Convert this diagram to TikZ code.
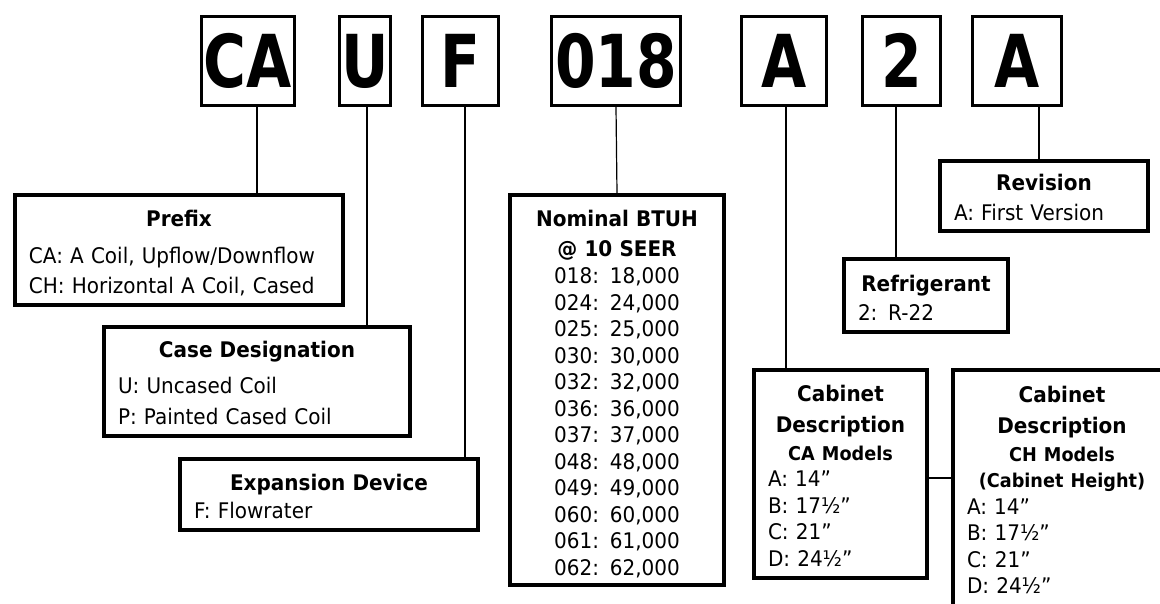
\documentclass[tikz,border=0pt]{standalone}
\usepackage{fontspec}
\setmainfont{DejaVu Sans}[FakeStretch=0.93]
\newfontfamily\codefont{DejaVu Sans}[FakeStretch=0.8]
\usepackage{tikz}
\usetikzlibrary{positioning}
\newcommand{\boxhead}[1]{\makebox[\linewidth][c]{\rule{0pt}{20pt}\bfseries #1}}

\begin{document}
\begin{tikzpicture}[x=1pt, y=-1pt,
  codebox/.style={draw, line width=3pt, inner sep=0pt, minimum height=89pt, text height=53pt, text depth=0pt, font=\codefont\bfseries\fontsize{73}{73}\selectfont},
  infobox/.style={draw, line width=4pt, inner xsep=14pt, inner ysep=0pt, align=left, font=\fontsize{21.5}{30}\selectfont},
  link/.style={line width=1.2pt}]

  \useasboundingbox (0,0) rectangle (1160,603);
  \clip (0,0) rectangle (1160,603);

  \node (lCA) [codebox, minimum width=93pt] at (248,61) {CA};
  \node (lU) [codebox, minimum width=51pt] at (365,61) {U};
  \node (lF) [codebox, minimum width=76pt] at (460.5,61) {F};
  \node (lBTU) [codebox, minimum width=129pt] at (616,61) {018};
  \node (lCab) [codebox, minimum width=85pt] at (784,61) {A};
  \node (lRef) [codebox, minimum width=78pt] at (901.5,61) {2};
  \node (lRev) [codebox, minimum width=89pt] at (1017,61) {A};

  \node (prefix) [infobox, text width=300pt, minimum width=328pt, minimum height=110pt] at (179,250)
    {\rule{0pt}{22pt}\boxhead{Prefix}\\[6.5pt] CA: A Coil, Upflow/Downflow\\ CH: Horizontal A Coil, Cased};
  \node (casedes) [infobox, text width=278pt, minimum width=306pt, minimum height=109pt,
    font=\fontsize{21.5}{31.5}\selectfont] at (257,381.5)
    {\boxhead{Case Designation}\\[4pt] U: Uncased Coil\\ P: Painted Cased Coil};
  \node (expdev) [infobox, text width=270pt, minimum width=298pt, minimum height=71pt,
    font=\fontsize{21.5}{28}\selectfont] at (329,494.5)
    {\boxhead{Expansion Device}\\ F: Flowrater};
  \node (btuh) [infobox, align=center, text width=186pt, minimum width=214pt, minimum height=390pt,
    font=\fontsize{21.5}{26.5}\selectfont] at (617,390)
    {\rule{0pt}{24pt}{\bfseries Nominal BTUH}\\[3.5pt] {\bfseries @ 10 SEER}\\[0.5pt]
     018: 18,000\\ 024: 24,000\\ 025: 25,000\\ 030: 30,000\\ 032: 32,000\\ 036: 36,000\\
     037: 37,000\\ 048: 48,000\\ 049: 49,000\\ 060: 60,000\\ 061: 61,000\\ 062: 62,000};
  \node (cabca) [infobox, text width=145pt, minimum width=173pt, minimum height=208pt,
    font=\fontsize{21.5}{26.5}\selectfont] at (840.5,474)
    {\boxhead{Cabinet}\\[4.5pt] \boxhead{Description}\\[1.5pt] \boxhead{\fontsize{19}{26.5}\selectfont CA Models}\\
     A: 14”\\ B: 17½”\\ C: 21”\\ D: 24½”};
  \node (cabch) [infobox, text width=190pt, minimum width=218pt, minimum height=236pt,
    font=\fontsize{21.5}{26.5}\selectfont] at (1062,488)
    {\boxhead{Cabinet}\\[4.5pt] \boxhead{Description}\\[1.5pt] \boxhead{\fontsize{19}{26.5}\selectfont CH Models}\\
     \boxhead{\fontsize{19}{26.5}\selectfont (Cabinet Height)}\\
     A: 14”\\ B: 17½”\\ C: 21”\\ D: 24½”};
  \node (refrig) [infobox, text width=136pt, minimum width=164pt, minimum height=73pt,
    font=\fontsize{21.5}{29}\selectfont] at (926,295.5)
    {\boxhead{Refrigerant}\\ 2: R-22};
  \node (revis) [infobox, text width=180pt, minimum width=208pt, minimum height=70pt] at (1044,196)
    {\boxhead{Revision}\\ A: First Version};

  \draw [link] ([xshift=9pt]lCA.south) -- ([xshift=9pt]lCA.south |- prefix.north);
  \draw [link] ([xshift=2pt]lU.south) -- ([xshift=2pt]lU.south |- casedes.north);
  \draw [link] ([xshift=4.5pt]lF.south) -- ([xshift=4.5pt]lF.south |- expdev.north);
  \draw [link] (lBTU.south) -- (btuh.north);
  \draw [link] ([xshift=2pt]lCab.south) -- ([xshift=2pt]lCab.south |- cabca.north);
  \draw [link] ([xshift=-5.5pt]lRef.south) -- ([xshift=-5.5pt]lRef.south |- refrig.north);
  \draw [link] ([xshift=22pt]lRev.south) -- ([xshift=22pt]lRev.south |- revis.north);
  \draw [link] ([yshift=-4pt]cabca.east) -- ([yshift=-4pt]cabca.east -| cabch.west);
\end{tikzpicture}
\end{document}
